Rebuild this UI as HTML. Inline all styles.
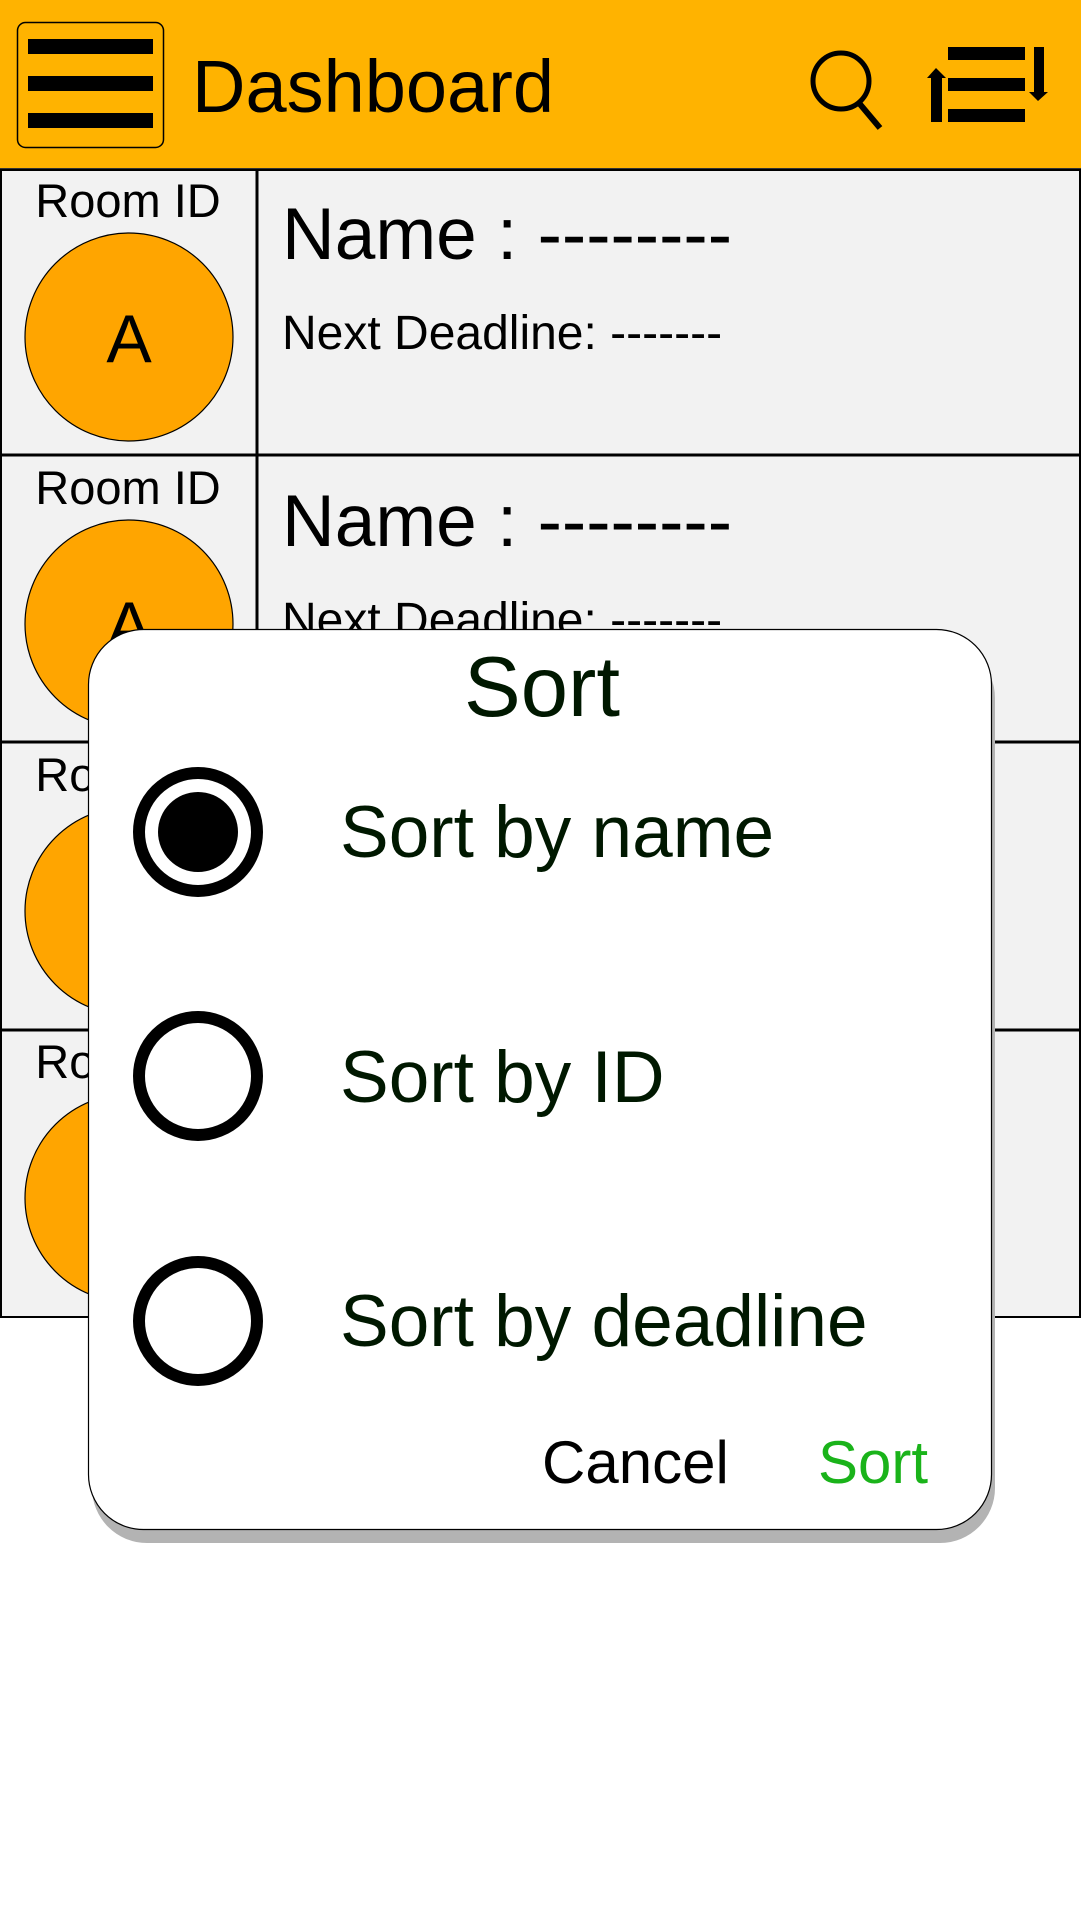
<!DOCTYPE html>
<html><head><meta charset="utf-8"><style>
html,body{margin:0;padding:0;background:#fff;}
svg{display:block;font-family:"Liberation Sans",Arial,sans-serif;}
</style></head><body>
<svg width="1081" height="1920" viewBox="0 0 1081 1920" xmlns="http://www.w3.org/2000/svg">
<rect x="0" y="0" width="1081" height="1920" fill="#fff"/>
<!-- header -->
<rect x="0" y="0" width="1081" height="169" fill="#FFB300"/>
<line x1="0" y1="169" x2="1081" y2="169" stroke="#333" stroke-width="2"/>
<rect x="17.5" y="22.5" width="146" height="125" rx="8" fill="none" stroke="#000" stroke-width="1.5"/>
<rect x="28" y="39" width="125" height="15" fill="#000"/>
<rect x="28" y="76" width="125" height="15" fill="#000"/>
<rect x="28" y="113" width="125" height="15" fill="#000"/>
<text x="192" y="112" font-size="74" fill="#000">Dashboard</text>
<circle cx="841" cy="81" r="28" fill="none" stroke="#000" stroke-width="5"/>
<line x1="859" y1="103" x2="880" y2="128" stroke="#000" stroke-width="6"/>
<rect x="948" y="47" width="77" height="13" fill="#000"/>
<rect x="948" y="78" width="77" height="13" fill="#000"/>
<rect x="948" y="109" width="77" height="13" fill="#000"/>
<rect x="931" y="77" width="11" height="45" fill="#000"/>
<polygon points="927,78 936,68 946,78" fill="#000"/>
<rect x="1034" y="47" width="10" height="46" fill="#000"/>
<polygon points="1029,92 1048,92 1038,101" fill="#000"/>
<!-- rows -->
<rect x="1" y="170" width="1079" height="1147" fill="#f2f2f2" stroke="#000" stroke-width="2"/>
<line x1="0" y1="455" x2="1081" y2="455" stroke="#000" stroke-width="3"/>
<line x1="0" y1="742" x2="1081" y2="742" stroke="#000" stroke-width="3"/>
<line x1="0" y1="1030" x2="1081" y2="1030" stroke="#000" stroke-width="3"/>
<line x1="257" y1="169" x2="257" y2="1317" stroke="#000" stroke-width="3"/>
<g font-size="47" fill="#000">
<text x="128" y="217" text-anchor="middle">Room ID</text>
<text x="128" y="504" text-anchor="middle">Room ID</text>
<text x="128" y="791" text-anchor="middle">Room ID</text>
<text x="128" y="1078" text-anchor="middle">Room ID</text>
</g>
<g fill="#FFA500" stroke="#000" stroke-width="1.2">
<circle cx="129" cy="337" r="104"/>
<circle cx="129" cy="624" r="104"/>
<circle cx="129" cy="911" r="104"/>
<circle cx="129" cy="1198" r="104"/>
</g>
<g font-size="68" fill="#000" text-anchor="middle">
<text x="129" y="362">A</text>
<text x="129" y="649">A</text>
</g>
<g fill="#000">
<text x="282" y="259" font-size="73">Name : --------</text>
<text x="282" y="349" font-size="48">Next Deadline: -------</text>
<text x="282" y="546" font-size="73">Name : --------</text>
<text x="282" y="636" font-size="48">Next Deadline: -------</text>
</g>
<!-- dialog -->
<rect x="92" y="643" width="903" height="900" rx="55" fill="#b3b3b3"/>
<rect x="88.5" y="629.5" width="903" height="900" rx="55" fill="#fff" stroke="#000" stroke-width="1.2"/>
<text x="542" y="716" font-size="85" fill="#001800" text-anchor="middle">Sort</text>
<g fill="none" stroke="#000" stroke-width="12">
<circle cx="198" cy="832" r="59"/>
<circle cx="198" cy="1076" r="59"/>
<circle cx="198" cy="1321" r="59"/>
</g>
<circle cx="198" cy="832" r="40" fill="#000"/>
<g font-size="73" fill="#001800">
<text x="340" y="857">Sort by name</text>
<text x="340" y="1102">Sort by ID</text>
<text x="340" y="1346">Sort by deadline</text>
</g>
<text x="542" y="1483" font-size="60" fill="#000">Cancel</text>
<text x="818" y="1483" font-size="60" fill="#1AB31A">Sort</text>
</svg>
</body></html>
